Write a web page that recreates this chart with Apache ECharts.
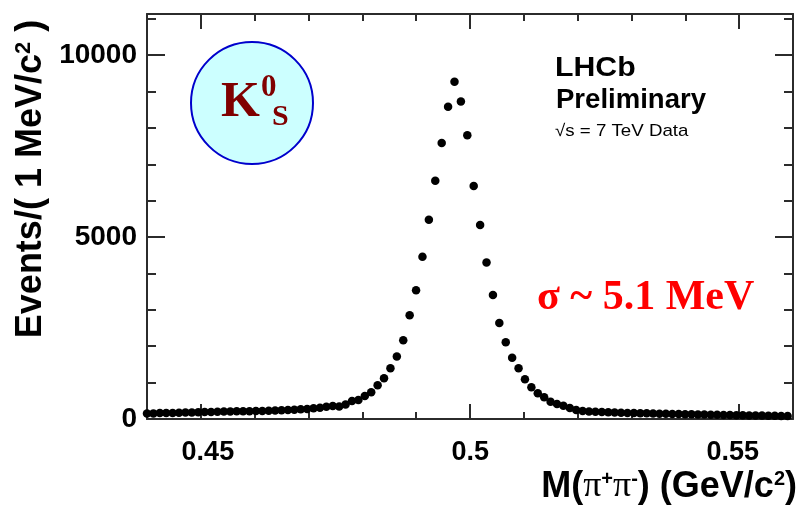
<!DOCTYPE html>
<html><head><meta charset="utf-8">
<script src="https://cdn.jsdelivr.net/npm/echarts@6/dist/echarts.min.js"></script>
<style>html,body{margin:0;padding:0;background:#fff}#c{width:798px;height:511px}</style>
</head><body><div id="c"></div>
<script>
// Bin centres of M(pi+ pi-) in GeV/c^2
const massGeV = [
0.44000,0.44119,0.44238,0.44357,0.44476,0.44595,0.44714,0.44833,0.44952,0.45071,
0.45190,0.45309,0.45428,0.45547,0.45666,0.45785,0.45904,0.46023,0.46142,0.46261,
0.46380,0.46499,0.46618,0.46737,0.46856,0.46975,0.47094,0.47213,0.47332,0.47451,
0.47570,0.47689,0.47808,0.47927,0.48046,0.48165,0.48284,0.48403,0.48522,0.48641,
0.48760,0.48879,0.48998,0.49117,0.49236,0.49355,0.49474,0.49593,0.49712,0.49831,
0.49950,0.50069,0.50188,0.50307,0.50426,0.50545,0.50664,0.50783,0.50902,0.51021,
0.51140,0.51259,0.51378,0.51497,0.51616,0.51735,0.51854,0.51973,0.52092,0.52211,
0.52330,0.52449,0.52568,0.52687,0.52806,0.52925,0.53044,0.53163,0.53282,0.53401,
0.53520,0.53639,0.53758,0.53877,0.53996,0.54115,0.54234,0.54353,0.54472,0.54591,
0.54710,0.54829,0.54948,0.55067,0.55186,0.55305,0.55424,0.55543,0.55662,0.55781,
0.55900];
// Events per bin
const events = [
150,150,165,165,165,170,180,180,185,190,
190,200,205,205,210,210,215,220,220,230,
235,240,245,255,265,275,294,310,338,357,
345,398,494,522,632,736,928,1118,1393,1717,
2162,2849,3535,4458,5475,6546,7582,8579,9266,8727,
7801,6400,5329,4304,3406,2637,2107,1684,1393,1090,
871,706,596,475,412,365,300,247,220,206,
198,192,184,178,173,165,165,160,157,151,
146,143,137,137,132,129,124,124,118,115,
110,110,104,102,96,96,93,91,88,82,
82];
const xLabelValues = [0.45, 0.5, 0.55];
const xMajorTicks = [0.45, 0.5, 0.55];
const xMinorTicks = [0.44,0.45,0.46,0.47,0.48,0.49,0.50,0.51,0.52,0.53,0.54,0.55,0.56];
const yLabelValues = [0, 5000, 10000];
const yMajorTicks = [0, 5000, 10000];
const yMinorTicks = [0,1000,2000,3000,4000,5000,6000,7000,8000,9000,10000,11000];

const X_MIN = 0.44, X_MAX = 0.56, Y_MIN = 0, Y_MAX = 11130;
const LABEL_X_MIN = 0.4384, LABEL_X_MAX = 0.5615;
const AX = '#2b2b2b';

function xAxisDef(pos, ticks, len, showLine) {
  return {type:'value', position:pos, min:X_MIN, max:X_MAX,
    axisLine:{show:showLine, onZero:false, lineStyle:{color:AX, width:2}},
    axisTick:{show:true, inside:true, length:len, customValues:ticks, lineStyle:{color:AX, width:2}},
    axisLabel:{show:false}, splitLine:{show:false}};
}
function yAxisDef(pos, ticks, len, showLine, labels) {
  return {type:'value', position:pos, min:Y_MIN, max:Y_MAX,
    axisLine:{show:showLine, onZero:false, lineStyle:{color:AX, width:2}},
    axisTick:{show:true, inside:true, length:len, customValues:ticks, lineStyle:{color:AX, width:2}},
    axisLabel: labels ? {show:true, customValues:yLabelValues, margin:10, color:'#000',
      fontFamily:'Liberation Sans', fontWeight:'bold', fontSize:28, formatter:v=>String(v)} : {show:false},
    splitLine:{show:false}};
}

const chart = echarts.init(document.getElementById('c'), null, {renderer:'canvas'});
const labelAxis = {type:'value', position:'bottom', min:LABEL_X_MIN, max:LABEL_X_MAX,
  axisLine:{show:false}, axisTick:{show:false}, splitLine:{show:false},
  axisLabel:{show:true, customValues:xLabelValues, margin:20, color:'#000',
    fontFamily:'Liberation Sans', fontWeight:'bold', fontSize:27,
    formatter:v=> (Math.abs(v-0.5)<1e-9 ? '0.5' : v.toFixed(2))}};

chart.setOption({
  animation:false,
  backgroundColor:'#fff',
  grid:{left:147, right:5, top:14, bottom:92, containLabel:false},
  xAxis:[
    xAxisDef('bottom', xMinorTicks, 7, true),
    xAxisDef('bottom', xMajorTicks, 15, false),
    xAxisDef('top', xMinorTicks, 7, true),
    xAxisDef('top', xMajorTicks, 15, false),
    labelAxis
  ],
  yAxis:[
    yAxisDef('left', yMinorTicks, 9, true, true),
    yAxisDef('left', yMajorTicks, 18, false, false),
    yAxisDef('right', yMinorTicks, 9, true, false),
    yAxisDef('right', yMajorTicks, 18, false, false)
  ],
  series:[{
    type:'scatter', xAxisIndex:0, yAxisIndex:0, clip:false,
    symbol:'circle', symbolSize:8.5,
    itemStyle:{color:'#000', opacity:1},
    data: massGeV.map((m,i)=>[m, events[i]]),
    z:5
  }],
  graphic:[
    {type:'circle', shape:{cx:252, cy:103, r:61}, style:{fill:'#ccffff', stroke:'#0000cc', lineWidth:2}, z:10},
    {type:'text', x:221, y:103, z:11, style:{text:'K', fill:'#800000', font:'bold 50px "Liberation Serif"', align:'left', verticalAlign:'middle'}},
    {type:'text', x:261, y:88, z:11, style:{text:'0', fill:'#800000', font:'bold 31px "Liberation Serif"', align:'left', verticalAlign:'middle'}},
    {type:'text', x:272, y:117, z:11, style:{text:'S', fill:'#800000', font:'bold 30px "Liberation Serif"', align:'left', verticalAlign:'middle'}},
    {type:'text', x:555, y:69, z:11, scaleX:1.12, style:{text:'LHCb', fill:'#000', font:'bold 27px "Liberation Sans"', align:'left', verticalAlign:'middle'}},
    {type:'text', x:556, y:101, z:11, scaleX:1.02, style:{text:'Preliminary', fill:'#000', font:'bold 27px "Liberation Sans"', align:'left', verticalAlign:'middle'}},
    {type:'text', x:555, y:131, z:11, scaleX:1.1, style:{text:'√s = 7 TeV Data', fill:'#000', font:'17px "Liberation Sans"', align:'left', verticalAlign:'middle'}},
    {type:'text', x:537, y:298, z:11, style:{text:'σ ~ 5.1 MeV', fill:'#ff0000', font:'bold 42px "Liberation Serif"', align:'left', verticalAlign:'middle'}},
    {type:'text', x:797, y:487, z:11, style:{
      text:'{a|M(}{p|π}{s|+}{p|π}{s|-}{a|) (GeV/c}{s|2}{a|)}',
      align:'right', verticalAlign:'middle', fill:'#000',
      rich:{a:{fontFamily:'Liberation Sans', fontWeight:'bold', fontSize:36, fill:'#000'},
            p:{fontFamily:'Liberation Serif', fontSize:36, fill:'#000'},
            s:{fontFamily:'Liberation Sans', fontWeight:'bold', fontSize:20, verticalAlign:'top', fill:'#000'}}}},
    {type:'text', x:31, y:179, rotation:Math.PI/2, z:11, style:{
      text:'{a|Events/( 1 MeV/c}{s|2}{a| )}',
      align:'center', verticalAlign:'middle', fill:'#000',
      rich:{a:{fontFamily:'Liberation Sans', fontWeight:'bold', fontSize:36, fill:'#000'},
            s:{fontFamily:'Liberation Sans', fontWeight:'bold', fontSize:22, verticalAlign:'top', fill:'#000'}}}}
  ]
});
</script></body></html>
